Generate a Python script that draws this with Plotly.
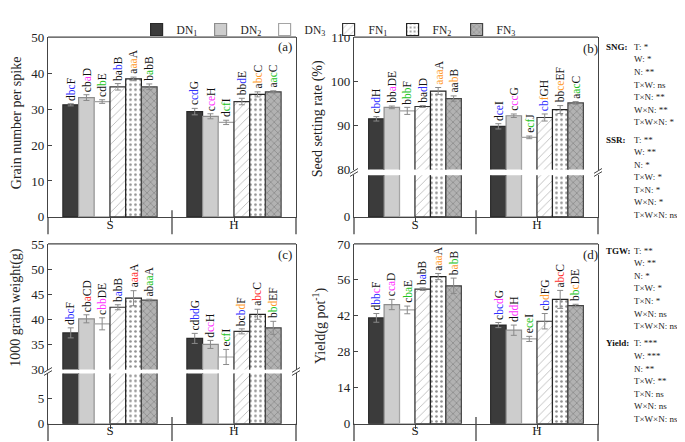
import re
import plotly.graph_objects as go

W, H = 685, 442

groups = ["S", "H"]
series = ["DN1", "DN2", "DN3", "FN1", "FN2", "FN3"]
legend_names = ["DN<sub>1</sub>", "DN<sub>2</sub>", "DN<sub>3</sub>",
                "FN<sub>1</sub>", "FN<sub>2</sub>", "FN<sub>3</sub>"]

# (a) Grain number per spike (SNG)
sng_S = [31.2, 33.2, 32.1, 36.2, 38.4, 36.2]
sng_H = [29.3, 28.0, 26.3, 32.1, 34.1, 34.8]
sng_err_S = [0.3, 0.8, 0.5, 0.9, 0.5, 0.8]
sng_err_H = [0.9, 0.7, 0.6, 0.9, 0.7, 0.3]
sng_lab_S = ["d[B:bc]F", "cb[M:a]D", "cd[G:b]E", "ba[B:b]B", "a[O:aa]A", "b[G:a]bB"]
sng_lab_H = ["c[B:cd]G", "c[M:ce]H", "d[G:cf]I", "bb[B:d]E", "a[O:bc]C", "a[G:ac]C"]

# (b) Seed setting rate (SSR, %)
ssr_S = [91.5, 94.1, 93.3, 94.3, 97.8, 96.1]
ssr_H = [89.8, 92.2, 87.3, 91.8, 93.6, 95.1]
ssr_err_S = [0.5, 0.3, 0.8, 0.2, 0.8, 0.6]
ssr_err_H = [0.6, 0.4, 0.3, 0.8, 0.9, 0.3]
ssr_lab_S = ["c[B:bd]H", "bb[M:a]DE", "b[G:bb]F", "ba[B:d]D", "[O:aaa]A", "aa[O:b]B"]
ssr_lab_H = ["d[B:ce]I", "c[M:cc]G", "e[G:cf]J", "[B:cb][O:f]GH", "bb[O:ce]EF", "a[G:ac]C"]

# (c) 1000 grain weight (TGW, g)
tgw_S = [37.3, 40.1, 39.1, 42.4, 44.2, 43.8]
tgw_H = [36.2, 35.0, 32.5, 37.6, 41.0, 38.3]
tgw_err_S = [1.0, 0.8, 1.2, 0.5, 1.5, 0.2]
tgw_err_H = [1.0, 0.8, 1.5, 0.5, 1.0, 1.3]
tgw_lab_S = ["d[B:bc]F", "cb[R:a]CD", "c[M:bb]DE", "b[B:a]bB", "a[R:aa]A", "ab[G:aa]A"]
tgw_lab_H = ["cd[B:bd]G", "d[M:cc]H", "e[G:cf]I", "bc[B:b][O:d]F", "a[R:bc]C", "b[G:b][O:d]EF"]

# (d) Yield (g pot-1)
yld_S = [41.2, 46.4, 44.3, 52.4, 57.3, 53.7]
yld_H = [38.4, 36.4, 33.0, 39.9, 48.4, 46.0]
yld_err_S = [1.7, 2.0, 1.5, 0.5, 1.2, 3.0]
yld_err_H = [1.0, 2.0, 1.0, 3.0, 3.5, 0.5]
yld_lab_S = ["d[B:bb][M:c]F", "c[M:ca]D", "c[G:ba]E", "b[B:a]bB", "a[O:aa]A", "b[O:a][G:b]B"]
yld_lab_H = ["c[B:bc][M:d]G", "d[M:dd]H", "e[G:ce]I", "c[B:b][O:d]FG", "a[R:bc]C", "b[G:b][O:c]DE"]

# ANOVA significance text
anova = [
    ("SNG:", ["T: *", "W: *", "N: **", "T×W: ns", "T×N: **", "W×N: **", "T×W×N: *"]),
    ("SSR:", ["T: **", "W: **", "N: *", "T×W: *", "T×N: *", "W×N: *", "T×W×N: ns"]),
    ("TGW:", ["T: **", "W: **", "N: *", "T×W: *", "T×N: *", "W×N: ns", "T×W×N: ns"]),
    ("Yield:", ["T: ***", "W: ***", "N: **", "T×W: **", "T×N: ns", "W×N: ns", "T×W×N: ns"]),
]

# ---------------- styles ----------------
FONT = "Liberation Serif"
fills = ["#3b3b3b", "#cdcdcd", "#ffffff", "#ffffff", "#ffffff", "#b2b2b2"]
lines = ["#2a2a2a", "#8e8e8e", "#a5a5a5", "#333333", "#222222", "#444444"]
pshape = ["", "", "", "/", ".", "x"]
pfg = ["#000", "#000", "#000", "#7a7a7a", "#222222", "#5a5a5a"]
psize = [8, 8, 8, 6, 5, 5]
psol = [0.2, 0.2, 0.2, 0.15, 0.22, 0.25]
COLORS = {"B": "#2f2fff", "M": "#ff2fff", "G": "#22c422", "O": "#ff9a2a", "R": "#ff2f2f"}
AX = "#444444"
BARGAP = 0.24


def rich(s):
    return re.sub(r"\[([A-Z]):([^\]]+)\]",
                  lambda m: f"<span style='color:{COLORS[m.group(1)]}'>{m.group(2)}</span>", s)


def fx(px):
    return px / W


def fy(py):
    return (H - py) / H


fig = go.Figure()

panels = [
    dict(key="a", x="x", y_up="y", y_low=None, xpx=(40, 288), up=(23, 209), low=None,
         rng_up=[0, 50], dt_up=10, rng_low=None, tv_low=None,
         vals=(sng_S, sng_H), errs=(sng_err_S, sng_err_H), labs=(sng_lab_S, sng_lab_H),
         title="Grain number per spike", tpos=(8, 112), plab=(277, 33)),
    dict(key="b", x="x2", y_up="y2", y_low="y3", xpx=(346, 590), up=(23, 160), low=(166, 209),
         rng_up=[80, 110], dt_up=10, rng_low=[0, 10], tv_low=[0],
         vals=(ssr_S, ssr_H), errs=(ssr_err_S, ssr_err_H), labs=(ssr_lab_S, ssr_lab_H),
         title="Seed setting rate (%)", tpos=(310, 108), plab=(582, 35)),
    dict(key="c", x="x3", y_up="y4", y_low="y5", xpx=(40, 288), up=(237, 367), low=(371, 423),
         rng_up=[30, 55], dt_up=5, rng_low=[0, 10], tv_low=[0, 5],
         vals=(tgw_S, tgw_H), errs=(tgw_err_S, tgw_err_H), labs=(tgw_lab_S, tgw_lab_H),
         title="1000 grain weight(g)", tpos=(8, 303), plab=(277, 248)),
    dict(key="d", x="x4", y_up="y6", y_low=None, xpx=(346, 590), up=(237, 423), low=None,
         rng_up=[0, 70], dt_up=14, rng_low=None, tv_low=None,
         vals=(yld_S, yld_H), errs=(yld_err_S, yld_err_H), labs=(yld_lab_S, yld_lab_H),
         title="Yield(g pot<sup>-1</sup>)", tpos=(311, 322), plab=(582, 248)),
]

layout_axes = {}
shapes = []
annotations = []
tickfont = dict(family=FONT, size=13, color="#222")


def axname(ref):
    return ref.replace("x", "xaxis").replace("y", "yaxis")


bw = (1 - BARGAP) / len(series)

for p in panels:
    xa, yu, yl = p["x"], p["y_up"], p["y_low"]
    ybase = yl if yl else yu
    bottom_px = (p["low"] or p["up"])[1]
    layout_axes[axname(xa)] = dict(
        domain=[fx(p["xpx"][0]), fx(p["xpx"][1])], anchor=ybase, type="category",
        range=[-0.5, 1.5], showline=True, linecolor=AX, linewidth=1.3,
        ticks="outside", ticklen=4, tickcolor=AX, tickfont=tickfont, showgrid=False,
        zeroline=False, fixedrange=True, ticklabelstandoff=-9)
    layout_axes[axname(yu)] = dict(
        domain=[fy(p["up"][1]), fy(p["up"][0])], anchor=xa, range=p["rng_up"], dtick=p["dt_up"],
        tick0=p["rng_up"][0], showline=True, linecolor=AX, linewidth=1.3, mirror=True,
        ticks="inside", ticklen=4, tickcolor=AX, tickfont=tickfont, showgrid=False,
        zeroline=False)
    if yl:
        layout_axes[axname(yl)] = dict(
            domain=[fy(p["low"][1]), fy(p["low"][0])], anchor=xa, range=p["rng_low"],
            tickvals=p["tv_low"], showline=True, linecolor=AX, linewidth=1.3, mirror=True,
            ticks="inside", ticklen=4, tickcolor=AX, tickfont=tickfont, showgrid=False,
            zeroline=False)

    for si, name in enumerate(series):
        yv = [p["vals"][0][si], p["vals"][1][si]]
        ev = [p["errs"][0][si], p["errs"][1][si]]
        marker = dict(color=fills[si], line=dict(color=lines[si], width=1.2))
        if pshape[si]:
            marker["pattern"] = dict(shape=pshape[si], fgcolor=pfg[si], bgcolor=fills[si],
                                     size=psize[si], solidity=psol[si])
        fig.add_trace(go.Bar(
            x=groups, y=yv, name=legend_names[si], xaxis=xa, yaxis=yu, marker=marker,
            error_y=dict(type="data", array=ev, color="#8a8a8a", thickness=1, width=3),
            showlegend=(p["key"] == "a"), legendgroup=name, hoverinfo="skip"))
        if yl:
            fig.add_trace(go.Bar(
                x=groups, y=yv, name=legend_names[si], xaxis=xa, yaxis=yl, marker=marker,
                showlegend=False, legendgroup=name, hoverinfo="skip"))
        for gi in range(len(groups)):
            annotations.append(dict(
                x=gi + (si - (len(series) - 1) / 2) * bw, y=yv[gi] + ev[gi],
                xref=xa, yref=yu, text=rich(p["labs"][gi][si]), showarrow=False,
                textangle=-90, xanchor="center", yanchor="bottom", yshift=1,
                font=dict(family=FONT, size=11.5, color="#111")))

    low_len = bottom_px - (p["low"] or p["up"])[0]
    ext = 18 / low_len
    above = 7 / low_len
    sline = dict(color=AX, width=1.3)
    shapes.append(dict(type="line", xref=f"{xa} domain", yref=f"{yu} domain",
                       x0=0, x1=1, y0=1, y1=1, line=sline))
    for xx in (0, 1):
        shapes.append(dict(type="line", xref=f"{xa} domain", yref=f"{ybase} domain",
                           x0=xx, x1=xx, y0=-ext, y1=0, line=sline))
    shapes.append(dict(type="line", xref=f"{xa} domain", yref=f"{ybase} domain",
                       x0=0.5, x1=0.5, y0=-ext, y1=above, line=sline))
    if yl:
        yc = (p["up"][1] + p["low"][0]) / 2
        for xpx in p["xpx"]:
            for off in (-1.6, 1.6):
                shapes.append(dict(type="line", xref="paper", yref="paper",
                                   x0=fx(xpx - 4), x1=fx(xpx + 4),
                                   y0=fy(yc + off + 2.5), y1=fy(yc + off - 2.5),
                                   line=dict(color=AX, width=1)))
    annotations.append(dict(x=fx(p["tpos"][0]), y=fy(p["tpos"][1]), xref="paper", yref="paper",
                            text=p["title"], showarrow=False, textangle=-90,
                            xanchor="center", yanchor="middle",
                            font=dict(family=FONT, size=14, color="#222")))
    annotations.append(dict(x=fx(p["plab"][0]), y=fy(p["plab"][1]), xref="paper", yref="paper",
                            text=f"({p['key']})", showarrow=False,
                            xanchor="center", yanchor="middle",
                            font=dict(family=FONT, size=13, color="#222")))

# ANOVA text blocks
block_y = [33, 129, 244, 340]
LINE_STEP = 13
for (head, items), by in zip(anova, block_y):
    annotations.append(dict(x=fx(596), y=fy(by), xref="paper", yref="paper", text=f"<b>{head}</b>",
                            showarrow=False, xanchor="left", yanchor="middle",
                            font=dict(family=FONT, size=9, color="#111")))
    for li, item in enumerate(items):
        annotations.append(dict(x=fx(624), y=fy(by + li * LINE_STEP), xref="paper", yref="paper",
                                text=item, showarrow=False, xanchor="left", yanchor="middle",
                                font=dict(family=FONT, size=9, color="#222")))

fig.update_layout(
    width=W, height=H, margin=dict(l=0, r=0, t=0, b=0),
    paper_bgcolor="white", plot_bgcolor="white",
    barmode="group", bargap=BARGAP, bargroupgap=0,
    shapes=shapes, annotations=annotations,
    legend=dict(orientation="h", x=0.468, xanchor="center", y=1.0, yanchor="top",
                font=dict(family=FONT, size=11.5, color="#222"), itemwidth=30,
                entrywidth=19, bgcolor="rgba(0,0,0,0)", traceorder="normal"),
    **layout_axes)

fig.write_html("out.html")
